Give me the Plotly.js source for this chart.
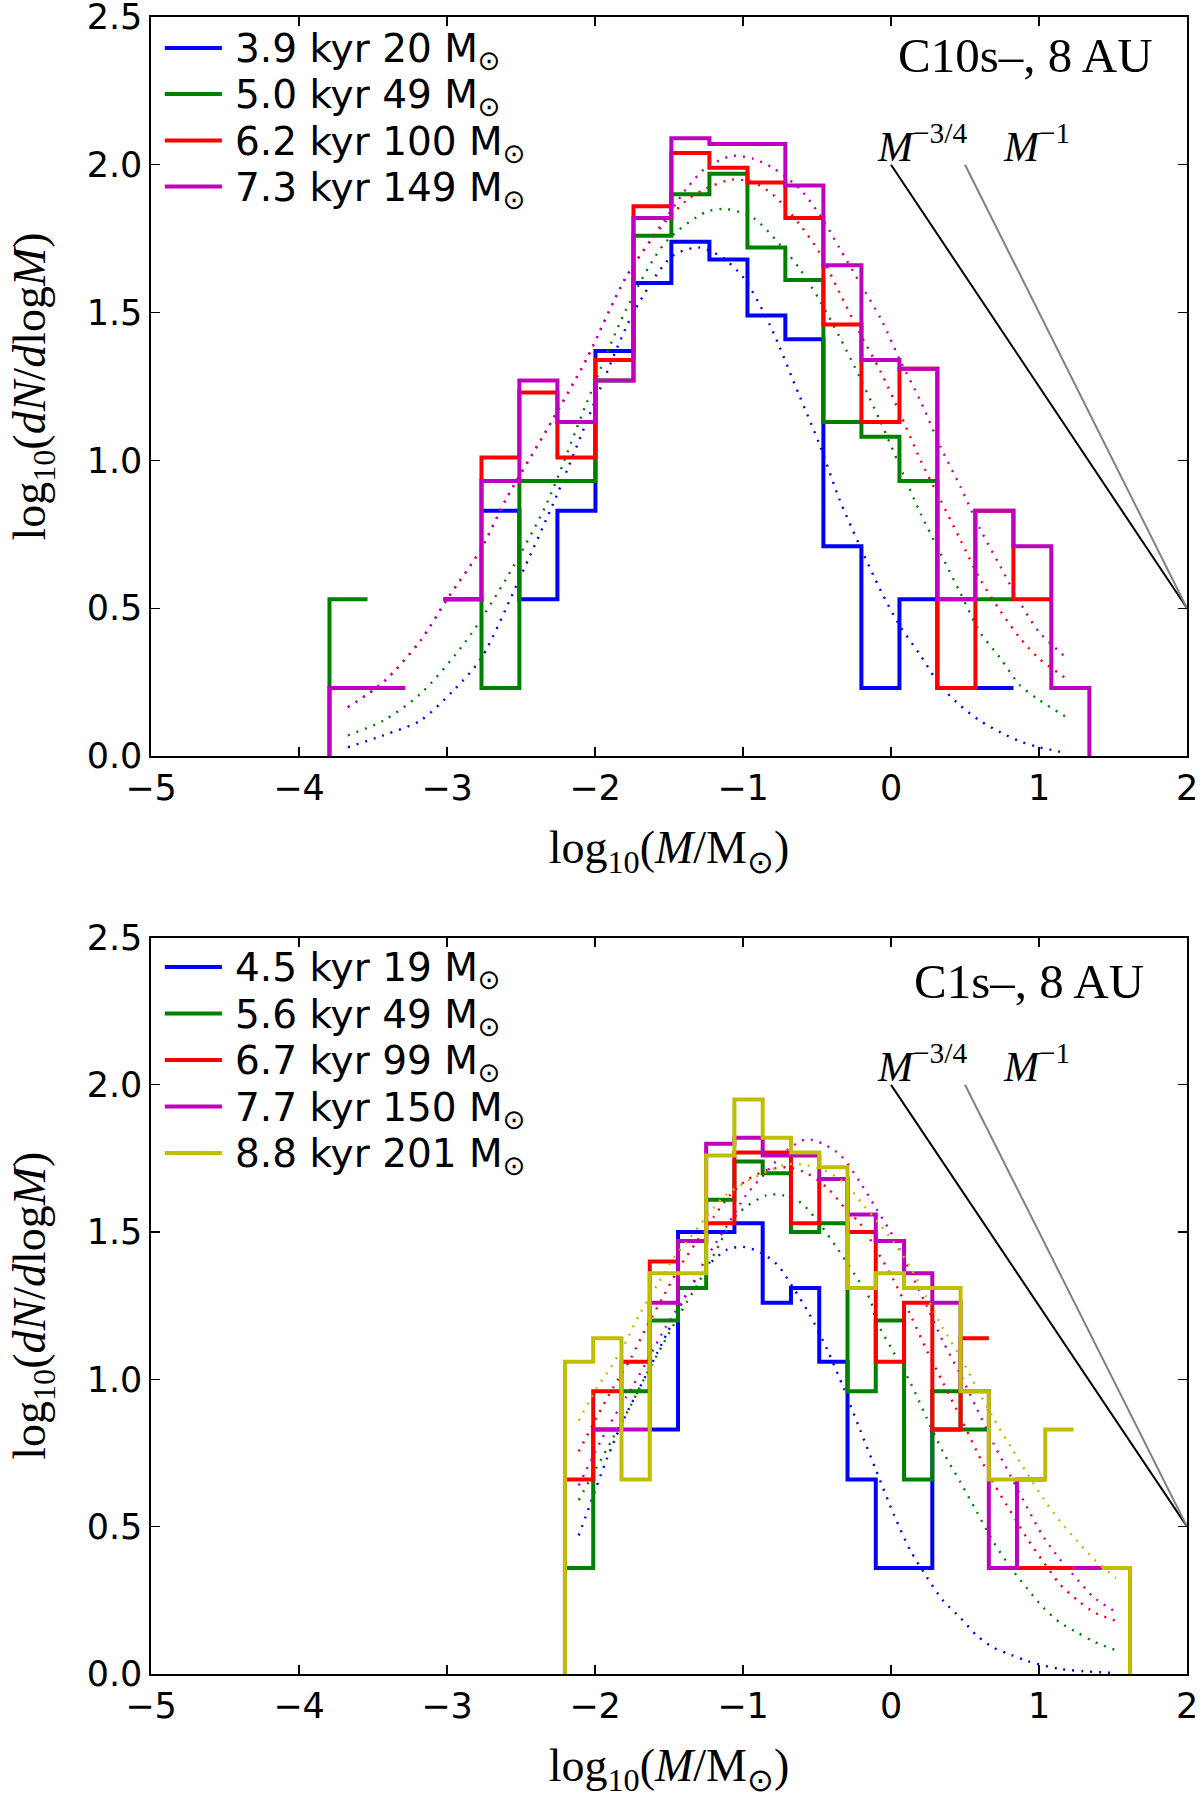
<!DOCTYPE html>
<html>
<head>
<meta charset="utf-8">
<script src="https://cdn.plot.ly/plotly-3.0.1.min.js"></script>
<style>html,body{margin:0;padding:0;background:#fff;}</style>
</head>
<body>
<div id="chart" style="width:1200px;height:1804px;"></div>
<script>
// ---------- DATA ----------
// Top panel: C10s-, 8 AU
const TOP_EDGES = [-3.794,-3.537,-3.281,-3.024,-2.767,-2.511,-2.254,-1.997,-1.740,-1.484,-1.227,-0.970,-0.714,-0.457,-0.200,0.057,0.313,0.570,0.827,1.083,1.340];
const TOP_LABELS = ['3.9 kyr 20 M<sub>⊙</sub>','5.0 kyr 49 M<sub>⊙</sub>','6.2 kyr 100 M<sub>⊙</sub>','7.3 kyr 149 M<sub>⊙</sub>'];
const TOP_BLUE    = [null,null,null,null,0.83,0.53,0.83,1.37,1.60,1.74,1.68,1.49,1.41,0.71,0.23,0.53,0.23,0.23,null,null];
const TOP_GREEN   = [0.53,null,null,0.53,0.23,0.93,0.93,1.27,1.76,1.90,1.97,1.72,1.61,1.13,1.08,0.93,0.53,0.53,null,null];
const TOP_RED     = [null,null,null,0.53,1.01,1.23,1.01,1.34,1.86,2.04,1.99,1.94,1.82,1.46,1.13,1.31,0.23,0.83,0.53,null];
const TOP_MAGENTA = [0.23,0.23,null,0.53,0.93,1.27,1.13,1.27,1.82,2.09,2.07,2.07,1.93,1.66,1.34,1.31,0.53,0.83,0.71,0.23];

// fitted curves (dotted), top panel
const TOP_FIT_BLUE_X = [-3.67,-3.43,-3.18,-2.96,-2.77,-2.51,-2.26,-2.0,-1.74,-1.48,-1.3,-1.15,-1.0,-0.82,-0.62,-0.48,-0.35,-0.21,-0.07,0.06,0.2,0.33,0.47,0.6,0.74,0.87,1.0,1.19];
const TOP_FIT_BLUE_Y = [0.03,0.07,0.12,0.22,0.33,0.6,0.88,1.2,1.5,1.69,1.72,1.69,1.62,1.46,1.22,1.05,0.87,0.71,0.56,0.44,0.34,0.24,0.17,0.12,0.08,0.05,0.03,0.01];
const TOP_FIT_GREEN_X = [-3.67,-3.43,-3.18,-2.87,-2.6,-2.33,-2.06,-1.79,-1.52,-1.25,-1.11,-0.93,-0.75,-0.62,-0.48,-0.35,-0.21,-0.07,0.06,0.2,0.33,0.47,0.6,0.74,0.87,1.0,1.19];
const TOP_FIT_GREEN_Y = [0.07,0.12,0.21,0.39,0.6,0.85,1.19,1.51,1.74,1.84,1.85,1.82,1.73,1.65,1.54,1.42,1.28,1.13,0.98,0.82,0.69,0.55,0.42,0.33,0.24,0.19,0.13];
const TOP_FIT_RED_X = [-3.67,-3.43,-3.18,-3.0,-2.77,-2.6,-2.33,-2.06,-1.79,-1.52,-1.38,-1.25,-1.07,-0.93,-0.8,-0.62,-0.48,-0.35,-0.21,-0.07,0.06,0.2,0.33,0.47,0.6,0.74,0.87,1.0,1.19];
const TOP_FIT_RED_Y = [0.165,0.25,0.39,0.53,0.7,0.87,1.1,1.34,1.62,1.81,1.88,1.92,1.95,1.94,1.9,1.8,1.7,1.57,1.43,1.3,1.16,1.0,0.87,0.73,0.6,0.49,0.4,0.33,0.26];
const TOP_FIT_MAGENTA_X = [-3.67,-3.43,-3.18,-3.0,-2.77,-2.6,-2.33,-2.06,-1.79,-1.52,-1.38,-1.25,-1.07,-0.93,-0.8,-0.62,-0.48,-0.35,-0.21,-0.07,0.06,0.2,0.33,0.47,0.6,0.74,0.87,1.0,1.19];
const TOP_FIT_MAGENTA_Y = [0.165,0.25,0.39,0.53,0.7,0.87,1.1,1.34,1.62,1.82,1.92,1.99,2.03,2.02,1.99,1.92,1.83,1.72,1.6,1.48,1.34,1.2,1.05,0.91,0.77,0.64,0.52,0.42,0.33];

// Bottom panel: C1s-, 8 AU
const BOT_EDGES = [-2.203,-2.012,-1.821,-1.630,-1.439,-1.249,-1.058,-0.867,-0.676,-0.485,-0.294,-0.103,0.088,0.279,0.470,0.661,0.851,1.042,1.233,1.424,1.615];
const BOT_LABELS = ['4.5 kyr 19 M<sub>⊙</sub>','5.6 kyr 49 M<sub>⊙</sub>','6.7 kyr 99 M<sub>⊙</sub>','7.7 kyr 150 M<sub>⊙</sub>','8.8 kyr 201 M<sub>⊙</sub>'];
const BOT_BLUE    = [null,null,null,0.83,1.50,1.50,1.53,1.26,1.31,1.06,0.66,0.36,0.36,0.83,null,null,null,null,null,null];
const BOT_GREEN   = [0.36,0.83,0.96,1.20,1.31,1.61,1.74,1.70,1.50,1.53,0.96,1.20,0.66,0.96,0.83,null,null,null,null,null];
const BOT_RED     = [0.66,0.96,1.06,1.40,1.47,1.53,1.77,1.77,1.53,1.68,1.50,1.06,1.26,0.83,1.14,null,0.36,0.36,null,null];
const BOT_MAGENTA = [null,0.83,0.83,1.26,1.47,1.80,1.82,1.76,1.76,1.68,1.56,1.47,1.36,1.26,0.96,0.36,0.66,null,0.36,0.36];
const BOT_YELLOW  = [1.06,1.14,0.66,1.36,1.36,1.76,1.95,1.82,1.77,1.72,1.31,1.36,1.31,1.31,0.96,0.66,0.66,0.83,null,0.36];

const BOT_FIT_BLUE_X = [-2.11,-2.03,-1.92,-1.81,-1.7,-1.58,-1.47,-1.36,-1.25,-1.11,-1.0,-0.88,-0.77,-0.66,-0.55,-0.43,-0.32,-0.21,-0.1,0.02,0.13,0.24,0.35,0.47,0.58,0.69,0.81,0.92,1.14,1.52];
const BOT_FIT_BLUE_Y = [0.47,0.58,0.73,0.86,0.97,1.09,1.2,1.31,1.38,1.44,1.45,1.43,1.39,1.31,1.22,1.1,0.97,0.83,0.69,0.54,0.42,0.33,0.25,0.19,0.13,0.09,0.065,0.044,0.017,0.003];
const BOT_FIT_GREEN_X = [-2.11,-1.99,-1.88,-1.76,-1.65,-1.54,-1.43,-1.31,-1.2,-1.04,-0.84,-0.73,-0.61,-0.5,-0.37,-0.25,-0.14,-0.1,0.02,0.13,0.24,0.35,0.47,0.58,0.69,0.81,0.92,1.03,1.14,1.26,1.37,1.52];
const BOT_FIT_GREEN_Y = [0.59,0.7,0.8,0.91,1.02,1.12,1.22,1.32,1.42,1.56,1.625,1.625,1.6,1.54,1.45,1.36,1.27,1.2,1.09,0.99,0.87,0.755,0.65,0.55,0.45,0.36,0.29,0.225,0.175,0.14,0.11,0.08];
const BOT_FIT_RED_X = [-2.11,-1.99,-1.88,-1.76,-1.65,-1.54,-1.43,-1.31,-1.2,-1.09,-0.98,-0.84,-0.7,-0.57,-0.43,-0.3,-0.21,-0.1,0.02,0.13,0.24,0.35,0.47,0.58,0.69,0.81,0.92,1.03,1.14,1.26,1.37,1.52];
const BOT_FIT_RED_Y = [0.755,0.87,0.97,1.07,1.18,1.28,1.38,1.47,1.55,1.625,1.675,1.71,1.72,1.7,1.65,1.575,1.53,1.44,1.335,1.22,1.1,0.99,0.87,0.755,0.65,0.55,0.46,0.38,0.305,0.25,0.21,0.18];
const BOT_FIT_MAGENTA_X = [-2.11,-1.92,-1.79,-1.65,-1.52,-1.38,-1.25,-1.11,-0.98,-0.84,-0.7,-0.57,-0.46,-0.34,-0.21,-0.1,0.02,0.13,0.24,0.35,0.47,0.58,0.69,0.81,0.92,1.03,1.14,1.26,1.37,1.52];
const BOT_FIT_MAGENTA_Y = [0.64,0.83,0.94,1.06,1.18,1.29,1.41,1.52,1.625,1.705,1.78,1.815,1.8,1.76,1.67,1.58,1.48,1.365,1.25,1.13,1.015,0.9,0.785,0.67,0.565,0.465,0.39,0.32,0.26,0.21];
const BOT_FIT_YELLOW_X = [-2.11,-1.99,-1.92,-1.81,-1.7,-1.58,-1.47,-1.36,-1.25,-1.13,-0.98,-0.84,-0.7,-0.57,-0.43,-0.3,-0.2,-0.1,0.02,0.13,0.24,0.35,0.47,0.58,0.69,0.81,0.92,1.03,1.14,1.26,1.37,1.52];
const BOT_FIT_YELLOW_Y = [0.86,0.97,1.02,1.11,1.22,1.32,1.41,1.48,1.55,1.62,1.67,1.705,1.73,1.727,1.705,1.66,1.6,1.54,1.465,1.38,1.28,1.175,1.075,0.97,0.87,0.77,0.68,0.595,0.52,0.45,0.39,0.325];

// Reference power laws
const PL34_X = [0, 2];   const PL34_Y = [2.0, 0.5];
const PL1_X  = [0.5, 2]; const PL1_Y  = [2.0, 0.5];

const COLORS = {blue:'#0000ff', green:'#008000', red:'#ff0000', magenta:'#bf00bf', yellow:'#bfbf00'};

// ---------- helpers ----------
function stepXY(edges, vals) {
  const x = [edges[0]], y = [0];
  for (let i = 0; i < vals.length; i++) {
    x.push(edges[i], edges[i+1]);
    y.push(vals[i], vals[i]);
  }
  x.push(edges[vals.length]); y.push(0);
  return {x, y};
}
function stepTrace(edges, vals, color, name, xa, ya) {
  const s = stepXY(edges, vals);
  return {x: s.x, y: s.y, type: 'scatter', mode: 'lines', name: name,
    line: {color: color, width: 4}, connectgaps: false,
    xaxis: xa, yaxis: ya, showlegend: false, hoverinfo: 'skip'};
}
function fitTrace(xs, ys, color, xa, ya) {
  return {x: xs, y: ys, type: 'scatter', mode: 'lines',
    line: {color: color, width: 2.4, dash: '2px,7px', shape: 'spline', smoothing: 0.8},
    xaxis: xa, yaxis: ya, showlegend: false, hoverinfo: 'skip'};
}
function plTraces(xa, ya) {
  return [
    {x: PL34_X, y: PL34_Y, type: 'scatter', mode: 'lines', line: {color: '#000000', width: 2},
     xaxis: xa, yaxis: ya, showlegend: false, hoverinfo: 'skip'},
    {x: PL1_X, y: PL1_Y, type: 'scatter', mode: 'lines', line: {color: '#808080', width: 2},
     xaxis: xa, yaxis: ya, showlegend: false, hoverinfo: 'skip'}
  ];
}

const traces = [];
const topSeries = [
  [TOP_BLUE, COLORS.blue, TOP_FIT_BLUE_X, TOP_FIT_BLUE_Y],
  [TOP_GREEN, COLORS.green, TOP_FIT_GREEN_X, TOP_FIT_GREEN_Y],
  [TOP_RED, COLORS.red, TOP_FIT_RED_X, TOP_FIT_RED_Y],
  [TOP_MAGENTA, COLORS.magenta, TOP_FIT_MAGENTA_X, TOP_FIT_MAGENTA_Y]
];
topSeries.forEach((s, i) => {
  traces.push(stepTrace(TOP_EDGES, s[0], s[1], TOP_LABELS[i], 'x', 'y'));
  traces.push(fitTrace(s[2], s[3], s[1], 'x', 'y'));
});
traces.push(...plTraces('x', 'y'));
const botSeries = [
  [BOT_BLUE, COLORS.blue, BOT_FIT_BLUE_X, BOT_FIT_BLUE_Y],
  [BOT_GREEN, COLORS.green, BOT_FIT_GREEN_X, BOT_FIT_GREEN_Y],
  [BOT_RED, COLORS.red, BOT_FIT_RED_X, BOT_FIT_RED_Y],
  [BOT_MAGENTA, COLORS.magenta, BOT_FIT_MAGENTA_X, BOT_FIT_MAGENTA_Y],
  [BOT_YELLOW, COLORS.yellow, BOT_FIT_YELLOW_X, BOT_FIT_YELLOW_Y]
];
botSeries.forEach((s, i) => {
  traces.push(stepTrace(BOT_EDGES, s[0], s[1], BOT_LABELS[i], 'x2', 'y2'));
  traces.push(fitTrace(s[2], s[3], s[1], 'x2', 'y2'));
});
traces.push(...plTraces('x2', 'y2'));

const tickFont = {family: 'DejaVu Sans', size: 35, color: '#000'};
const titleFont = {family: 'Liberation Serif', size: 46, color: '#000'};
const XTITLE = 'log<sub>10</sub>(<i>M</i>/M<sub>⊙</sub>)';
const YTITLE = 'log<sub>10</sub>(<i>dN</i>/<i>d</i>log<i>M</i>)';

function xax(domain, anchor) {
  return {domain: domain, anchor: anchor, range: [-5, 2], dtick: 1, tick0: 0,
    ticks: 'inside', ticklen: 9, tickwidth: 1.3, tickcolor: '#000', mirror: 'ticks',
    showline: true, linecolor: '#000', linewidth: 1.6, showgrid: false, zeroline: false,
    ticklabeloverflow: 'allow',
    tickfont: tickFont, title: {text: XTITLE, font: titleFont, standoff: 24}, fixedrange: true};
}
function yax(domain, anchor) {
  return {domain: domain, anchor: anchor, range: [0, 2.5], dtick: 0.5, tick0: 0, tickformat: '.1f',
    ticks: 'inside', ticklen: 9, tickwidth: 1.3, tickcolor: '#000', mirror: 'ticks',
    showline: true, linecolor: '#000', linewidth: 1.6, showgrid: false, zeroline: false,
    ticklabeloverflow: 'allow',
    tickfont: tickFont, title: {text: YTITLE, font: titleFont, standoff: 26}, fixedrange: true};
}

const labFont = {family: 'Liberation Serif', size: 42, color: '#000'};
const panelFont = {family: 'Liberation Serif', size: 49, color: '#000'};
const legFont = {family: 'DejaVu Sans', size: 39, color: '#000'};

function mLabels(xr, yr) {
  return [
    {xref: xr, yref: yr, x: -0.11, y: 1.975, xanchor: 'left', yanchor: 'bottom', showarrow: false,
     text: '<i>M</i><sup>−3/4</sup>', font: labFont},
    {xref: xr, yref: yr, x: 0.74, y: 1.975, xanchor: 'left', yanchor: 'bottom', showarrow: false,
     text: '<i>M</i><sup>−1</sup>', font: labFont}
  ];
}

// legend rows (pixel rows of the reference) -> paper coords
const FIG_H = 1804, FIG_W = 1200;
const TOP_LEG_ROWS = [48, 94, 140.5, 186.5];
const BOT_LEG_ROWS = [967, 1013.5, 1060, 1106.5, 1153];
const LEG_LINE_X = [164.8, 221.9];
const LEG_TEXT_X = 233;

const shapes = [], legAnn = [];
function addLegend(rows, labels, colors) {
  rows.forEach((r, i) => {
    const yp = 1 - r / FIG_H;
    shapes.push({type: 'line', xref: 'paper', yref: 'paper',
      x0: LEG_LINE_X[0] / FIG_W, x1: LEG_LINE_X[1] / FIG_W, y0: yp, y1: yp,
      line: {color: colors[i], width: 4}});
    legAnn.push({xref: 'paper', yref: 'paper', x: LEG_TEXT_X / FIG_W, y: yp - 3 / FIG_H,
      xanchor: 'left', yanchor: 'middle', showarrow: false, text: labels[i], font: legFont});
  });
}
addLegend(TOP_LEG_ROWS, TOP_LABELS, [COLORS.blue, COLORS.green, COLORS.red, COLORS.magenta]);
addLegend(BOT_LEG_ROWS, BOT_LABELS, [COLORS.blue, COLORS.green, COLORS.red, COLORS.magenta, COLORS.yellow]);

const layout = {
  width: FIG_W, height: FIG_H,
  margin: {l: 0, r: 0, t: 0, b: 0},
  paper_bgcolor: '#fff', plot_bgcolor: '#fff',
  xaxis: xax([0.1258, 0.9892], 'y'),
  yaxis: yax([0.5809, 0.9906], 'x'),
  xaxis2: xax([0.1258, 0.9892], 'y2'),
  yaxis2: yax([0.0721, 0.4803], 'x2'),
  shapes: shapes,
  annotations: [
    {xref: 'x', yref: 'y', x: 1.785, y: 2.37, xanchor: 'right', yanchor: 'middle', showarrow: false,
     text: 'C10s–, 8 AU', font: panelFont},
    {xref: 'x2', yref: 'y2', x: 1.72, y: 2.35, xanchor: 'right', yanchor: 'middle', showarrow: false,
     text: 'C1s–, 8 AU', font: panelFont}
  ].concat(mLabels('x', 'y')).concat(mLabels('x2', 'y2')).concat(legAnn),
  showlegend: false,
  hovermode: false
};

Plotly.newPlot('chart', traces, layout, {staticPlot: true, displayModeBar: false});
</script>
</body>
</html>
